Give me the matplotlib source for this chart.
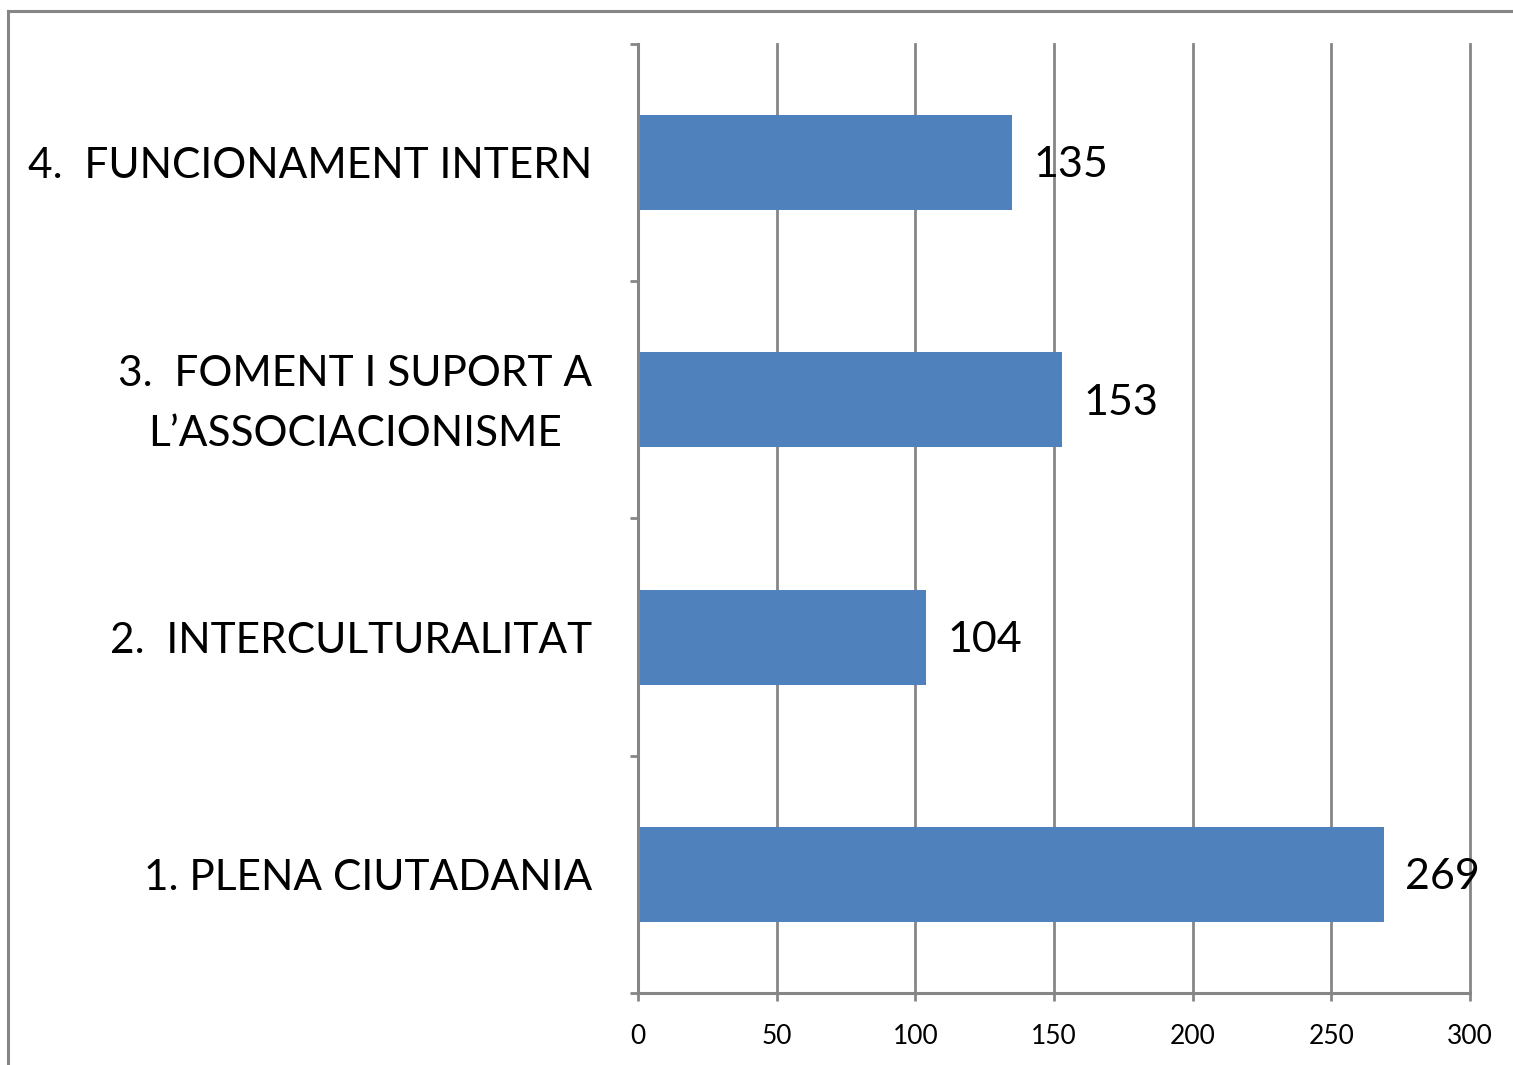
import matplotlib.pyplot as plt
from matplotlib.lines import Line2D
from matplotlib.transforms import ScaledTranslation

categories = ["1. PLENA CIUTADANIA", "2.  INTERCULTURALITAT",
              "3.  FOMENT I SUPORT A\nL\u2019ASSOCIACIONISME", "4.  FUNCIONAMENT INTERN"]
values = [269, 104, 153, 135]
xticks = [0, 50, 100, 150, 200, 250, 300]

plt.rcParams['font.family'] = ['Lato', 'DejaVu Sans']
grey = '#868686'

fig = plt.figure(figsize=(15.13, 10.65), dpi=100)
ax = fig.add_axes([0.4217, 0.0676, 0.5499, 0.8911])

pos = list(range(len(categories)))
ax.barh(pos, values, height=0.40, color='#4F81BD', zorder=3)
for p, v in zip(pos, values):
    ax.annotate(str(v), (v, p), xytext=(15, -2), textcoords='offset points',
                va='center', ha='left', fontsize=31, zorder=4)

ax.set_xlim(0, 300)
ax.set_ylim(-0.5, 3.5)
ax.set_xticks(xticks)
ax.set_xticklabels([str(t) for t in xticks], fontsize=19)
ax.set_yticks(pos)
ax.set_yticklabels(categories, fontsize=30.5, ma='center', linespacing=1.7)
ax.set_yticks([-0.5, 0.5, 1.5, 2.5, 3.5], minor=True)
ax.tick_params(axis='y', which='major', length=0, pad=33)
ax.tick_params(axis='y', which='minor', length=6, width=2, color=grey, direction='out')
ax.tick_params(axis='x', length=6, width=2, color=grey, direction='out', pad=16)

# the two-line label sits a bit higher in the original
lbl = ax.get_yticklabels()[2]
lbl.set_transform(lbl.get_transform() + ScaledTranslation(0, 0.1, fig.dpi_scale_trans))

ax.grid(axis='x', color=grey, linewidth=2, zorder=0)
for gl in ax.get_xgridlines():
    gl.set_clip_on(False)
for s in ['top', 'right']:
    ax.spines[s].set_visible(False)
for s in ['left', 'bottom']:
    ax.spines[s].set_color(grey)
    ax.spines[s].set_linewidth(2.2)
    ax.spines[s].set_zorder(5)

# outer chart border (partly cut off in the original)
fig.add_artist(Line2D([0.0056, 1.0], [0.9901, 0.9901], color=grey, linewidth=2.2))
fig.add_artist(Line2D([0.0056, 0.0056], [0.0, 0.9901], color=grey, linewidth=2.2))

fig.savefig('out.png', dpi=100, facecolor='white')
